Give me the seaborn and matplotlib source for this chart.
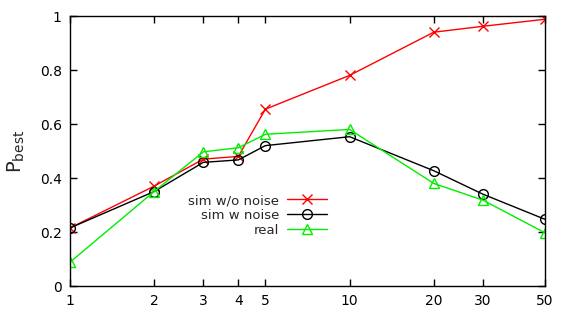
import numpy as np
import pandas as pd
import matplotlib
matplotlib.use("Agg")
import matplotlib.pyplot as plt
import seaborn as sns
from matplotlib.ticker import FixedLocator, NullLocator, FixedFormatter

x_vals = [1, 2, 3, 4, 5, 10, 20, 30, 50]
sim_no_noise = [0.215, 0.37, 0.47, 0.48, 0.655, 0.78, 0.94, 0.962, 0.988]
sim_noise = [0.215, 0.35, 0.458, 0.467, 0.52, 0.553, 0.427, 0.34, 0.247]
real = [0.088, 0.35, 0.497, 0.512, 0.562, 0.58, 0.38, 0.318, 0.197]
x_ticks = [1, 2, 3, 4, 5, 10, 20, 30, 50]
y_ticks = [0, 0.2, 0.4, 0.6, 0.8, 1]
y_labels = ["0", "0.2", "0.4", "0.6", "0.8", "1"]

series = {
    "sim w/o noise": (sim_no_noise, "#ff0000", "x", 7.5),
    "sim w noise": (sim_noise, "#000000", "o", 7),
    "real": (real, "#00ee00", "^", 7.5),
}

sns.set_style("ticks")
plt.rcParams["font.family"] = ["DejaVu Sans"]

fig = plt.figure(figsize=(5.68, 3.19), dpi=100)
ax = fig.add_axes([0.1232, 0.1034, 0.8363, 0.8464])

for name, (vals, col, mk, ms) in series.items():
    df = pd.DataFrame({"x": x_vals, "y": vals})
    sns.lineplot(data=df, x="x", y="y", ax=ax, color=col, marker=mk,
                 markersize=ms, markerfacecolor="none", markeredgecolor=col,
                 markeredgewidth=1, linewidth=1, label=name)

ax.set_xscale("log")
ax.set_xlim(1, 50)
ax.set_ylim(0, 1)
ax.xaxis.set_major_locator(FixedLocator(x_ticks))
ax.xaxis.set_major_formatter(FixedFormatter([str(t) for t in x_ticks]))
ax.xaxis.set_minor_locator(NullLocator())
ax.yaxis.set_major_locator(FixedLocator(y_ticks))
ax.yaxis.set_major_formatter(FixedFormatter(y_labels))
ax.tick_params(direction="in", length=5, width=1, top=True, right=True,
               labelsize=10, colors="black", pad=6)
for s in ax.spines.values():
    s.set_visible(True)
    s.set_color("black")
    s.set_linewidth(1)
ax.set_xlabel("")
ax.set_ylabel(r"P$_{\rm best}$", fontsize=14, labelpad=9)

ax.legend(loc="upper left", bbox_to_anchor=(0.235, 0.365), frameon=False,
          markerfirst=False, fontsize=9.5, handlelength=3.0,
          labelspacing=0.15, borderpad=0, handletextpad=0.6)

fig.savefig("out.png", dpi=100)
